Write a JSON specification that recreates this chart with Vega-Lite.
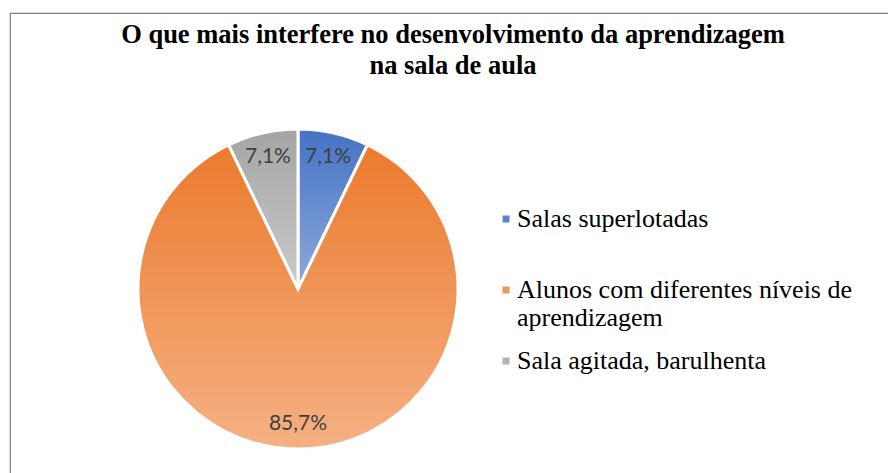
{
  "$schema": "https://vega.github.io/schema/vega-lite/v6.json",
  "width": 886,
  "height": 480,
  "autosize": {"type": "none"},
  "padding": {"left": 10, "top": 13, "right": 0, "bottom": 0},
  "background": "white",
  "view": {"stroke": "#7f7f7f", "strokeWidth": 1.2},
  "config": {
    "font": "Liberation Serif",
    "view": {"stroke": "#7f7f7f", "strokeWidth": 1.2},
    "legend": {"labelFont": "Liberation Serif", "labelFontSize": 26}
  },
  "title": {
    "text": ["O que mais interfere no desenvolvimento da aprendizagem", "na sala de aula"],
    "font": "Liberation Serif",
    "fontSize": 26.5,
    "fontWeight": "bold",
    "color": "#000000",
    "anchor": "middle",
    "frame": "group",
    "baseline": "top",
    "lineHeight": 31,
    "offset": 0,
    "dy": 66
  },
  "data": {
    "values": [
      {"categoria": "Salas superlotadas", "n": 1, "ordem": 1, "rotulo": "7,1%"},
      {"categoria": "Alunos com diferentes níveis de aprendizagem", "n": 12, "ordem": 2, "rotulo": "85,7%"},
      {"categoria": "Sala agitada, barulhenta", "n": 1, "ordem": 3, "rotulo": "7,1%"}
    ]
  },
  "transform": [
    {"stack": "n", "groupby": [], "sort": [{"field": "ordem", "order": "ascending"}], "as": ["t0", "t1"]}
  ],
  "layer": [
    {
      "mark": {"type": "arc", "radius": 160, "x": 288, "y": 276, "stroke": "white", "strokeWidth": 3},
      "encoding": {
        "theta": {"field": "t0", "type": "quantitative", "scale": {"domain": [0, 14]}},
        "theta2": {"field": "t1"},
        "color": {
          "field": "categoria",
          "type": "nominal",
          "sort": ["Salas superlotadas", "Alunos com diferentes níveis de aprendizagem", "Sala agitada, barulhenta"],
          "scale": {
            "domain": ["Salas superlotadas", "Alunos com diferentes níveis de aprendizagem", "Sala agitada, barulhenta"],
            "range": ["#5B84CD", "#F09655", "#B3B3B3"]
          },
          "legend": {
            "title": null,
            "orient": "none",
            "legendX": 483,
            "legendY": 193,
            "symbolType": "square",
            "symbolSize": 49,
            "symbolStrokeWidth": 0,
            "labelFont": "Liberation Serif",
            "labelFontSize": 26,
            "labelColor": "#000000",
            "labelLimit": 0,
            "labelOffset": -2,
            "rowPadding": 17,
            "gridAlign": "all",
            "labelExpr": "datum.label == 'Alunos com diferentes níveis de aprendizagem' ? ['Alunos com diferentes níveis de', 'aprendizagem'] : datum.label"
          }
        }
      }
    },
    {
      "transform": [{"filter": "datum.ordem == 1"}],
      "mark": {"type": "arc", "radius": 160, "x": 288, "y": 276, "stroke": "white", "strokeWidth": 3,
        "color": {"gradient": "linear", "x1": 0, "y1": 0, "x2": 0, "y2": 1, "stops": [{"offset": 0, "color": "#4472C4"}, {"offset": 1, "color": "#8FAADC"}]}},
      "encoding": {
        "theta": {"field": "t0", "type": "quantitative"},
        "theta2": {"field": "t1"}
      }
    },
    {
      "transform": [{"filter": "datum.ordem == 2"}],
      "mark": {"type": "arc", "radius": 160, "x": 288, "y": 276, "stroke": "white", "strokeWidth": 3,
        "color": {"gradient": "linear", "x1": 0, "y1": 0, "x2": 0, "y2": 1, "stops": [{"offset": 0, "color": "#EC7A2E"}, {"offset": 1, "color": "#F5B183"}]}},
      "encoding": {
        "theta": {"field": "t0", "type": "quantitative"},
        "theta2": {"field": "t1"}
      }
    },
    {
      "transform": [{"filter": "datum.ordem == 3"}],
      "mark": {"type": "arc", "radius": 160, "x": 288, "y": 276, "stroke": "white", "strokeWidth": 3,
        "color": {"gradient": "linear", "x1": 0, "y1": 0, "x2": 0, "y2": 1, "stops": [{"offset": 0, "color": "#A5A5A5"}, {"offset": 1, "color": "#CACACA"}]}},
      "encoding": {
        "theta": {"field": "t0", "type": "quantitative"},
        "theta2": {"field": "t1"}
      }
    },
    {
      "mark": {"type": "text", "radius": 135, "x": 288, "y": 276, "font": "Lato", "fontSize": 21, "color": "#404040", "baseline": "middle", "align": "center"},
      "encoding": {
        "theta": {"field": "n", "type": "quantitative", "stack": true},
        "order": {"field": "ordem", "type": "quantitative"},
        "text": {"field": "rotulo", "type": "nominal"}
      }
    }
  ]
}
